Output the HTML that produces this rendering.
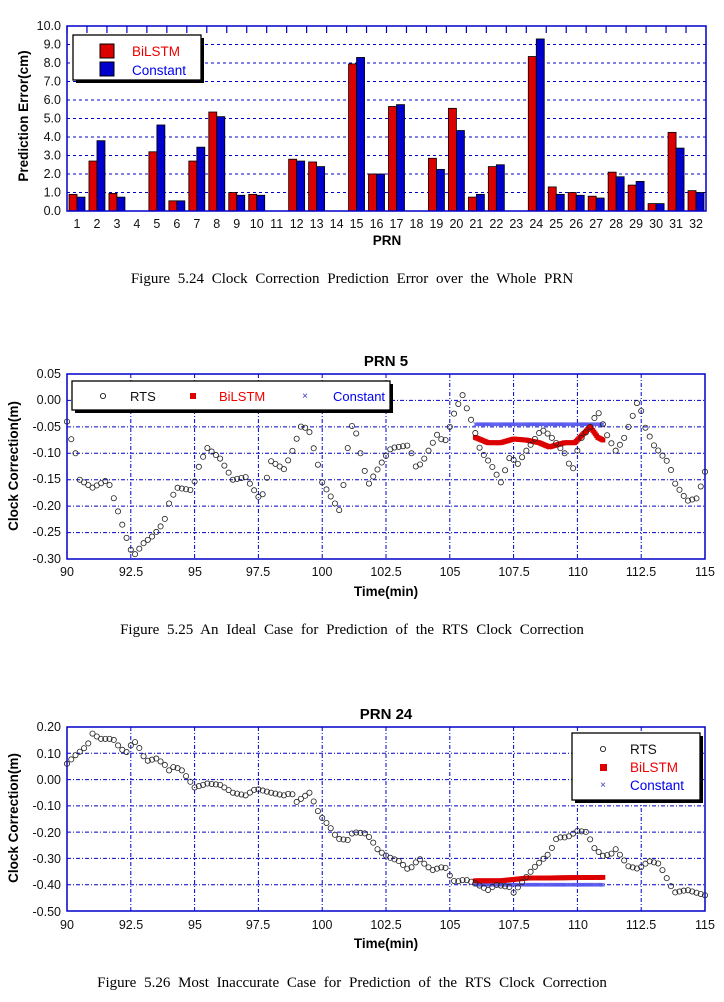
<!DOCTYPE html>
<html><head><meta charset="utf-8"><style>
body{margin:0;background:#fff;width:724px;height:1002px;overflow:hidden}
svg{position:absolute;left:0;top:0}
text{font-family:"Liberation Sans",Arial,sans-serif}
.cap{font-family:"Liberation Serif",serif;font-size:15px;word-spacing:4px}
.tk{font-size:12.5px;fill:#111}
.ax{font-size:13.5px;font-weight:bold}
</style></head><body>
<svg id="s" width="724" height="1002" xmlns="http://www.w3.org/2000/svg">
<g id="g1"></g>
<g class="tk" text-anchor="end">
<text x="61" y="30">10.0</text><text x="61" y="48.5">9.0</text><text x="61" y="67">8.0</text><text x="61" y="85.5">7.0</text><text x="61" y="104">6.0</text><text x="61" y="122.5">5.0</text><text x="61" y="141">4.0</text><text x="61" y="159.5">3.0</text><text x="61" y="178">2.0</text><text x="61" y="196.5">1.0</text><text x="61" y="215">0.0</text>
</g>
<g class="tk" text-anchor="middle" id="x1"></g>
<text class="ax" x="387" y="245" text-anchor="middle">PRN</text>
<text class="ax" transform="translate(28,116) rotate(-90)" text-anchor="middle">Prediction Error(cm)</text>
<text class="cap" x="352" y="283" text-anchor="middle">Figure 5.24 Clock Correction Prediction Error over the Whole PRN</text>
<text x="386" y="366" text-anchor="middle" font-size="15" font-weight="bold">PRN 5</text>
<g class="tk" text-anchor="end">
<text x="61" y="378">0.05</text><text x="61" y="404">0.00</text><text x="61" y="431">-0.05</text><text x="61" y="457">-0.10</text><text x="61" y="483">-0.15</text><text x="61" y="510">-0.20</text><text x="61" y="536">-0.25</text><text x="61" y="563">-0.30</text>
</g>
<g class="tk" text-anchor="middle">
<text x="67" y="576">90</text><text x="131" y="576">92.5</text><text x="195" y="576">95</text><text x="258" y="576">97.5</text><text x="322" y="576">100</text><text x="386" y="576">102.5</text><text x="450" y="576">105</text><text x="514" y="576">107.5</text><text x="578" y="576">110</text><text x="641" y="576">112.5</text><text x="705" y="576">115</text>
</g>
<text class="ax" x="386" y="596" text-anchor="middle">Time(min)</text>
<text class="ax" transform="translate(18,466) rotate(-90)" text-anchor="middle">Clock Correction(m)</text>
<text class="cap" x="352" y="634" text-anchor="middle">Figure 5.25 An Ideal Case for Prediction of the RTS Clock Correction</text>
<text x="386" y="719" text-anchor="middle" font-size="15" font-weight="bold">PRN 24</text>
<g class="tk" text-anchor="end">
<text x="61" y="731">0.20</text><text x="61" y="758">0.10</text><text x="61" y="784">0.00</text><text x="61" y="810">-0.10</text><text x="61" y="837">-0.20</text><text x="61" y="863">-0.30</text><text x="61" y="889">-0.40</text><text x="61" y="916">-0.50</text>
</g>
<g class="tk" text-anchor="middle">
<text x="67" y="929">90</text><text x="131" y="929">92.5</text><text x="195" y="929">95</text><text x="258" y="929">97.5</text><text x="322" y="929">100</text><text x="386" y="929">102.5</text><text x="450" y="929">105</text><text x="514" y="929">107.5</text><text x="578" y="929">110</text><text x="641" y="929">112.5</text><text x="705" y="929">115</text>
</g>
<text class="ax" x="386" y="948" text-anchor="middle">Time(min)</text>
<text class="ax" transform="translate(18,818) rotate(-90)" text-anchor="middle">Clock Correction(m)</text>
<text class="cap" x="352" y="987" text-anchor="middle">Figure 5.26 Most Inaccurate Case for Prediction of the RTS Clock Correction</text>
<g id="g2"></g><g id="g3"></g>
<rect x="76" y="38" width="128" height="45" fill="#000"/>
<rect x="73" y="35" width="128" height="45" fill="#fff" stroke="#000" stroke-width="1.3"/>
<rect x="100" y="44" width="14" height="14" fill="#d00" stroke="#000"/>
<rect x="100" y="62" width="14" height="14" fill="#00c" stroke="#000"/>
<text x="132" y="56" font-size="13.5" fill="#e00">BiLSTM</text>
<text x="132" y="75" font-size="13.5" fill="#00e">Constant</text>

<rect x="75" y="384" width="318" height="29" fill="#000"/>
<rect x="72" y="381" width="318" height="29" fill="#fff" stroke="#000" stroke-width="1.3"/>
<circle cx="103" cy="396" r="2.6" fill="none" stroke="#000" stroke-width=".8"/>
<text x="130" y="401" font-size="13" fill="#111">RTS</text>
<rect x="190" y="393" width="6" height="6" fill="#d00"/>
<text x="219" y="401" font-size="13" fill="#e00">BiLSTM</text>
<text x="305" y="399" font-size="10" fill="#33c" text-anchor="middle">×</text>
<text x="333" y="401" font-size="13" fill="#00e">Constant</text>

<rect x="575" y="736" width="128" height="67" fill="#000"/>
<rect x="572" y="733" width="128" height="67" fill="#fff" stroke="#000" stroke-width="1.3"/>
<circle cx="603" cy="749" r="2.6" fill="none" stroke="#000" stroke-width=".8"/>
<text x="630" y="754" font-size="13.5" fill="#111">RTS</text>
<rect x="600" y="764" width="7" height="7" fill="#d00"/>
<text x="630" y="772" font-size="13.5" fill="#e00">BiLSTM</text>
<text x="603" y="788" font-size="10" fill="#33c" text-anchor="middle">×</text>
<text x="630" y="790" font-size="13.5" fill="#00e">Constant</text>
</svg>
<script>
var NS="http://www.w3.org/2000/svg";
function el(p,n,a){var e=document.createElementNS(NS,n);for(var k in a)e.setAttribute(k,a[k]);p.appendChild(e);return e;}
var g1=document.getElementById('g1'),x1=document.getElementById('x1');
var L=67,R=706,T=26,B=211;
for(var v=1;v<10;v++){var y=B-v*18.5;el(g1,'line',{x1:L,x2:R,y1:y,y2:y,stroke:'#00c','stroke-dasharray':'3,3','stroke-width':1});}
var d=[[.9,.75],[2.7,3.8],[.95,.75],[0,0],[3.2,4.65],[.55,.55],[2.7,3.45],[5.35,5.1],[1,.85],[.9,.85],[0,0],[2.8,2.7],[2.65,2.4],[0,0],[7.95,8.3],[2,2],[5.65,5.75],[0,0],[2.85,2.25],[5.55,4.35],[.75,.9],[2.4,2.5],[0,0],[8.35,9.3],[1.3,.9],[1,.85],[.8,.7],[2.1,1.85],[1.4,1.6],[.4,.4],[4.25,3.4],[1.1,1]];
var w=(R-L)/32;
for(var i=0;i<32;i++){var x=L+i*w;
 el(g1,'line',{x1:x,x2:x,y1:T,y2:T+7,stroke:'#00c','stroke-width':1.2});
 var t=el(x1,'text',{x:x+w/2,y:228});t.textContent=i+1;
 if(d[i][0]>0){el(g1,'rect',{x:x+2,y:B-d[i][0]*18.5,width:8,height:d[i][0]*18.5,fill:'#d00',stroke:'#000','stroke-width':.8});}
 if(d[i][1]>0){el(g1,'rect',{x:x+10,y:B-d[i][1]*18.5,width:8,height:d[i][1]*18.5,fill:'#00c',stroke:'#000','stroke-width':.8});}
}
el(g1,'rect',{x:L,y:T,width:R-L,height:B-T,fill:'none',stroke:'#00c','stroke-width':1.5});

function interp(k,t){for(var i=0;i<k.length-1;i++){if(t<=k[i+1][0]){var f=(t-k[i][0])/(k[i+1][0]-k[i][0]);return k[i][1]+f*(k[i+1][1]-k[i][1]);}}return k[k.length-1][1];}
function plot(g,top,bot,ymax,ymin,ystep,rts,bil,con){
 var L=67,R=705;var X=function(t){return L+(t-90)/25*(R-L)},Y=function(v){return top+(ymax-v)/(ymax-ymin)*(bot-top)};
 for(var v=ymax-ystep;v>ymin+1e-6;v-=ystep){el(g,'line',{x1:L,x2:R,y1:Y(v),y2:Y(v),stroke:'#00c','stroke-dasharray':'4,2,1,2'});}
 for(var t=92.5;t<115;t+=2.5){el(g,'line',{x1:X(t),x2:X(t),y1:top,y2:bot,stroke:'#00c','stroke-dasharray':'4,2,1,2'});}
 el(g,'rect',{x:L,y:top,width:R-L,height:bot-top,fill:'none',stroke:'#00c','stroke-width':1.5});
 for(var t=106;t<=111.01;t+=0.04){var y=Y(con);el(g,'path',{d:'M'+(X(t)-1.8)+' '+(y-1.8)+'l3.6 3.6M'+(X(t)+1.8)+' '+(y-1.8)+'l-3.6 3.6',stroke:'#55e','stroke-width':.6});}
 for(var t=106;t<=111.01;t+=0.05){el(g,'rect',{x:X(t)-2.4,y:Y(interp(bil,t))-2.4,width:4.8,height:4.8,fill:'#d00'});}
 for(var t=90;t<=115.01;t+=1/6){el(g,'circle',{cx:X(t),cy:Y(interp(rts,t)),r:2.6,fill:'none',stroke:'#222','stroke-width':.8});}
}
var r5=[[90,-.04],[90.2,-.08],[90.4,-.11],[90.5,-.15],[91,-.165],[91.6,-.15],[91.8,-.18],[92,-.21],[92.4,-.27],[92.6,-.295],[93,-.27],[93.4,-.255],[93.8,-.23],[94,-.195],[94.3,-.165],[94.9,-.17],[95.2,-.12],[95.5,-.09],[96,-.11],[96.5,-.15],[97,-.145],[97.6,-.19],[98,-.115],[98.5,-.13],[98.8,-.10],[99.2,-.045],[99.5,-.06],[99.8,-.115],[100,-.155],[100.5,-.195],[100.7,-.21],[100.9,-.135],[101.1,-.045],[101.3,-.055],[101.5,-.10],[101.8,-.16],[102.3,-.12],[102.7,-.09],[103.4,-.085],[103.7,-.13],[104,-.11],[104.5,-.065],[104.8,-.08],[105.2,-.02],[105.5,.01],[105.7,-.02],[105.9,-.045],[106.2,-.095],[106.6,-.12],[107,-.155],[107.4,-.10],[107.6,-.125],[108,-.095],[108.6,-.055],[108.9,-.065],[109.5,-.10],[109.8,-.135],[110.1,-.075],[110.5,-.05],[110.8,-.02],[111.2,-.07],[111.5,-.095],[111.8,-.075],[112.2,-.025],[112.4,.005],[112.6,-.045],[113,-.085],[113.6,-.12],[113.8,-.155],[114.3,-.19],[114.7,-.185],[115,-.135]];
var b5=[[106,-.07],[106.5,-.08],[107,-.08],[107.5,-.073],[108,-.075],[108.5,-.08],[108.9,-.088],[109.5,-.08],[109.9,-.08],[110.2,-.065],[110.5,-.05],[110.8,-.07],[111,-.075]];
plot(document.getElementById('g2'),374,559,.05,-.30,.05,r5,b5,-.045);
var r24=[[90,.06],[90.3,.09],[90.8,.13],[91,.175],[91.3,.155],[91.8,.155],[92,.13],[92.3,.10],[92.5,.13],[92.7,.145],[93.1,.07],[93.5,.08],[93.8,.06],[94,.035],[94.2,.05],[94.5,.035],[95,-.03],[95.5,-.015],[96,-.02],[96.5,-.05],[97,-.06],[97.4,-.035],[98,-.05],[98.5,-.06],[98.8,-.05],[99,-.085],[99.5,-.05],[99.7,-.09],[99.9,-.135],[100.3,-.18],[100.6,-.225],[101,-.23],[101.2,-.20],[101.7,-.205],[101.9,-.225],[102.2,-.27],[102.6,-.295],[103,-.31],[103.4,-.345],[103.8,-.30],[104,-.32],[104.3,-.345],[104.8,-.33],[105,-.365],[105.2,-.39],[105.6,-.38],[106,-.395],[106.5,-.42],[106.8,-.40],[107.4,-.41],[107.5,-.43],[108.3,-.335],[108.9,-.28],[109.2,-.22],[109.6,-.22],[110,-.195],[110.4,-.20],[110.6,-.255],[111,-.29],[111.3,-.285],[111.5,-.265],[111.7,-.29],[112,-.33],[112.4,-.34],[112.8,-.31],[113.2,-.32],[113.5,-.375],[113.8,-.43],[114.3,-.42],[115,-.44]];
var b24=[[106,-.385],[107,-.385],[108,-.375],[111,-.372]];
plot(document.getElementById('g3'),727,911,.20,-.50,.10,r24,b24,-.40);
</script>
</body></html>
